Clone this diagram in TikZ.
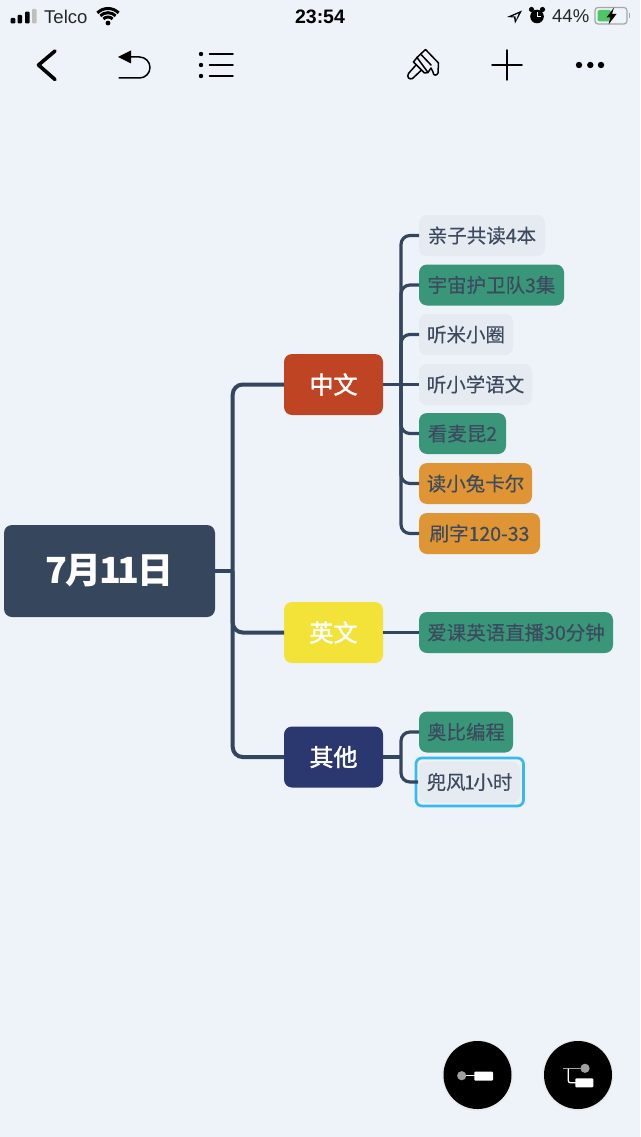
\documentclass[tikz,border=0pt]{standalone}
\usepackage{fontspec}
\setmainfont{Noto Sans CJK SC}
\newfontfamily\statusfont{Liberation Sans}
\newfontfamily\leaffont[FakeBold=0.3]{Noto Sans CJK SC}
\newfontfamily\topicfont[FakeBold=1.8]{Noto Sans CJK SC}
\usetikzlibrary{calc,positioning}
\definecolor{pagebg}{HTML}{EDF3F9}
\definecolor{linecol}{HTML}{34465F}
\definecolor{inkcol}{HTML}{3C4A5F}
\definecolor{rootcol}{HTML}{36465D}
\definecolor{redcol}{HTML}{BE4423}
\definecolor{yellowcol}{HTML}{F3E238}
\definecolor{navycol}{HTML}{2B376F}
\definecolor{greencol}{HTML}{3A9678}
\definecolor{orangecol}{HTML}{DF9534}
\definecolor{greycol}{HTML}{E6EAF1}
\definecolor{selcol}{HTML}{3BB8F0}
\definecolor{dimcol}{HTML}{A0A0A0}
\definecolor{battcol}{HTML}{4CC763}
\tikzset{
  rootbox/.style={fill=rootcol,text=white,rounded corners=8pt,inner sep=0pt,outer sep=0pt,minimum width=211pt,minimum height=92pt,font=\fontsize{36}{44}\selectfont\bfseries},
  topicbox/.style={rounded corners=8pt,inner sep=0pt,outer sep=0pt,minimum width=99pt,minimum height=61pt,text=white,font=\topicfont\fontsize{24}{28}\selectfont},
  leafbox/.style={anchor=west,rounded corners=8pt,inner sep=0pt,outer sep=0pt,minimum height=41pt,text height=14.8pt,text depth=0pt,text=inkcol,font=\leaffont\fontsize{19.5}{23}\selectfont},
  trunk/.style={draw=linecol,line width=4pt,rounded corners=10pt},
  twig/.style={draw=linecol,line width=3.2pt,rounded corners=9pt},
  status/.style={inner sep=0pt,text=black!85,font=\statusfont\fontsize{18.5}{20}\selectfont},
  icon/.style={draw=black,line width=1.5pt,line cap=round,line join=round},
}
\begin{document}
\begin{tikzpicture}[x=1pt,y=-1pt]
\useasboundingbox (0,0) rectangle (640,1137);
\fill[pagebg] (0,0) rectangle (640,1137);
% status bar
\fill[black,rounded corners=1pt] (10.7,18) rectangle (15.3,23.5);
\fill[black,rounded corners=1pt] (17.5,15) rectangle (22,23.5);
\fill[black,rounded corners=1pt] (25,11.7) rectangle (29.7,23.5);
\fill[black!25,rounded corners=1pt] (32,9) rectangle (36.7,23.5);
\node[status,anchor=west] (carrier) at (44,16.5) {Telco};
\fill[black] (108,23) circle (2.4);
\draw[black,line width=3pt] (108,23.5) ++(-135:6.5) arc (-135:-45:6.5);
\draw[black,line width=3pt] (108,23.5) ++(-135:10.8) arc (-135:-45:10.8);
\draw[black,line width=3pt] (108,23.5) ++(-135:15) arc (-135:-45:15);
\node[status,text=black,font=\statusfont\bfseries\fontsize{19.5}{20}\selectfont] (clock) at (320,16.5) {23:54};
\fill[black] (522,10.5) -- (507,17) -- (514,17.5) -- (515,23.5) -- cycle;
\fill[pagebg] (518.5,13.5) -- (512,16.5) -- (515.5,16.5) -- (516,20) -- cycle;
\fill[black] (537,16.5) circle (6.8);
\fill[black] (531.5,9.5) circle (2.6);
\fill[black] (542.5,9.5) circle (2.6);
\draw[white,line width=1pt] (537,12) -- (537,17) -- (540.5,17);
\node[status,anchor=west] (charge) at (552,16.5) {44\%};
\draw[black!35,line width=1.2pt,rounded corners=3pt] (595,7.5) rectangle (627,24);
\fill[black!35] (628.5,13.5) rectangle (630,18.5);
\fill[battcol,rounded corners=1.5pt] (597.5,10) rectangle (611,21.5);
\fill[black] (614,7.5) -- (606.5,17.5) -- (610.5,17.5) -- (608.5,24.5) -- (616.5,14) -- (612,14) -- cycle;
% toolbar
\draw[icon,line width=3.6pt] (55,51) -- (38.5,65) -- (55,79.5);
\fill[black] (118,57) -- (131,50.5) -- (131,63.5) -- cycle;
\draw[icon] (131,57) -- (139.5,57) arc (-90:90:10.5) -- (119,78);
\fill[black] (201,54) circle (2.2);
\fill[black] (201,65) circle (2.2);
\fill[black] (201,76) circle (2.2);
\draw[icon] (209.5,54) -- (233,54);
\draw[icon] (209.5,65) -- (233,65);
\draw[icon] (209.5,76) -- (233,76);
\draw[icon] (417,57.5) -- (425.5,49.5) -- (438.5,63) -- (438,73) .. controls (437,76) and (433,76) .. (433,72) -- (431,68) -- (428,72.5) -- cycle;
\draw[icon] (413.5,62) -- (417,57.5);
\draw[icon] (413.5,62) -- (424.5,73) -- (428,72.5);
\draw[icon] (416,65) -- (408.5,73.5) .. controls (406.5,77) and (409,80) .. (412.5,78.5) -- (421,70.5);
\draw[icon] (421.5,55) -- (431,65);
\draw[icon] (492,65) -- (522,65);
\draw[icon] (507,50) -- (507,80);
\fill[black] (579,65) circle (3.2);
\fill[black] (590.3,65) circle (3.2);
\fill[black] (601,65) circle (3.2);
% map
\node[rootbox] (day) at (109.5,571) {7\kern-2pt 月\kern-2pt 1\kern-3pt 1\kern-2pt 日};
\node[topicbox,fill=redcol] (cn) at (333.5,384.5) {中文};
\node[topicbox,fill=yellowcol] (en) at (333.5,632.5) {英文};
\node[topicbox,fill=navycol] (misc) at (333.5,757) {其他};
\node[leafbox,fill=greycol,minimum width=126pt] (read) at (419,235.5) {亲子共读4本};
\node[leafbox,fill=greencol,minimum width=145pt] (space) at (419,285) {宇宙护卫队3集};
\node[leafbox,fill=greycol,minimum width=94pt] (rice) at (419,334.5) {听米小圈};
\node[leafbox,fill=greycol,minimum width=113pt] (lang) at (419,384.5) {听小学语文};
\node[leafbox,fill=greencol,minimum width=87pt] (mcq) at (419,433.5) {看麦昆2};
\node[leafbox,fill=orangecol,minimum width=113pt] (rabbit) at (419,483.5) {读小兔卡尔};
\node[leafbox,fill=orangecol,minimum width=121pt] (write) at (419,533.5) {刷字120-33};
\node[leafbox,fill=greencol,minimum width=194pt] (live) at (419,632.5) {爱课英语直播30分钟};
\node[leafbox,fill=greencol,minimum width=94pt] (code) at (419,732) {奥比编程};
\node[leafbox,fill=greycol,minimum width=101pt] (ride) at (419,782) {兜风\kern-1.5pt 1\kern-1.5pt 小时};
\draw[selcol,line width=2.7pt,rounded corners=6pt] ($(ride.south west)+(-3,3.5)$) rectangle ($(ride.north east)+(3.5,-3.5)$);
\coordinate (mainbus) at (232.7,571);
\coordinate (cnbus) at (401,384.5);
\coordinate (miscbus) at (401,757);
\draw[trunk] (day.east) -- (mainbus);
\draw[trunk] (cn.west) -| (mainbus);
\draw[trunk] (en.west) -| (mainbus);
\draw[trunk] (misc.west) -| (mainbus);
\draw[twig] (cn.east) -- (lang.west);
\draw[twig] (read.west) -| (cnbus);
\draw[twig] (space.west) -| (cnbus);
\draw[twig] (rice.west) -| (cnbus);
\draw[twig] (mcq.west) -| (cnbus);
\draw[twig] (rabbit.west) -| (cnbus);
\draw[twig] (write.west) -| (cnbus);
\draw[twig] (en.east) -- (live.west);
\draw[twig] (misc.east) -- (miscbus);
\draw[twig] (code.west) -| (miscbus);
\draw[twig] ($(ride.west)+(-1,0)$) -| (miscbus);
% buttons
\fill[black!8] (477.5,1075.5) circle (35.5);
\fill[black!8] (578,1075.5) circle (35.5);
\fill[black] (477.5,1075) circle (34);
\fill[black] (578,1075) circle (34);
\draw[white,line width=1.2pt] (462,1075.8) -- (475,1075.8);
\fill[dimcol] (461.7,1075.7) circle (4.6);
\fill[white,rounded corners=1pt] (474.3,1071.5) rectangle (493,1080.7);
\draw[dimcol,line width=1.3pt] (563.3,1068.3) -- (585,1068.3);
\draw[white,line width=1.3pt,rounded corners=2pt] (568.3,1068.5) -- (568.3,1082.7) -- (576,1082.7);
\fill[dimcol] (585,1068.3) circle (4.6);
\fill[white,rounded corners=1pt] (575.3,1078.3) rectangle (593.3,1087.3);
\end{tikzpicture}
\end{document}
